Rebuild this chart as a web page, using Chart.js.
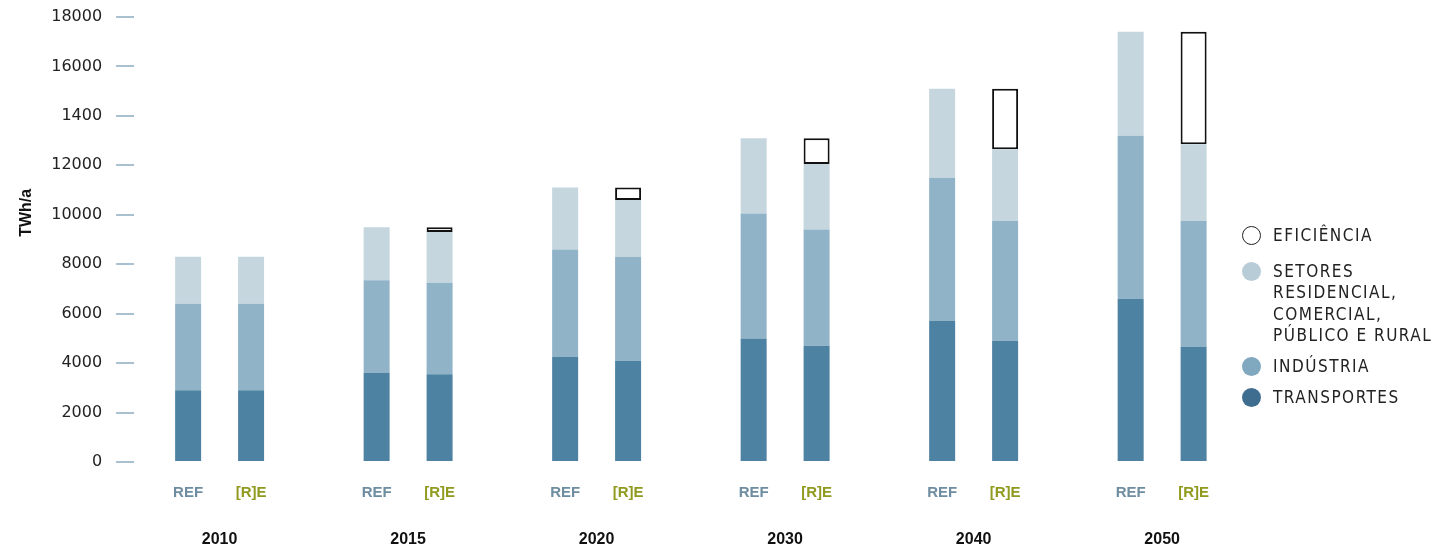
<!DOCTYPE html>
<html>
<head>
<meta charset="utf-8">
<script src="https://cdn.jsdelivr.net/npm/chart.js@4"></script>
<style>
  body { margin: 0; background: #fff; }
  #wrap { position: relative; width: 1432px; height: 553px; }
  #legend {
    position: absolute; left: 1242px; top: 225px;
    font-family: 'DejaVu Sans Condensed', 'DejaVu Sans', sans-serif;
    font-size: 17px; letter-spacing: 1.5px; line-height: 21.6px; color: #222;
    white-space: pre;
  }
  .item { position: relative; padding-left: 31px; }
  .dot {
    position: absolute; left: 0; top: 1px; width: 19px; height: 19px;
    border-radius: 50%; box-sizing: border-box;
  }
</style>
</head>
<body>
<div id="wrap">
  <canvas id="energyChart"></canvas>
  <div id="legend"></div>
</div>
<script>
// Categories and tick labels
const years = ['2010', '2015', '2020', '2030', '2040', '2050'];
const scenarios = ['REF', '[R]E'];
const yTickLabels = ['0', '2000', '4000', '6000', '8000', '10000', '12000', '1400', '16000', '18000'];

// Segment values (TWh/a), stacked bottom to top
const refTransportes = [2900, 3600, 4250, 5000, 5700, 6600];
const refIndustria = [3500, 3750, 4350, 5050, 5800, 6600];
const refSetores = [1900, 2150, 2500, 3050, 3600, 4200];
const reTransportes = [2900, 3550, 4100, 4700, 4900, 4650];
const reIndustria = [3500, 3700, 4200, 4700, 4850, 5100];
const reSetores = [1900, 2050, 2300, 2650, 2900, 3100];
const reEficiencia = [null, 200, 500, 1050, 2450, 4550];

const colors = {transportes: '#4e82a2', industria: '#90b3c7', setores: '#c5d6df'};

// Legend entries (top to bottom)
const legendItems = [
  {text: 'EFICIÊNCIA', fill: '#fff', border: '1.5px solid #222', gap: 0},
  {text: 'SETORES\nRESIDENCIAL,\nCOMERCIAL,\nPÚBLICO E RURAL', fill: '#b8ccd7', border: 'none', gap: 14},
  {text: 'INDÚSTRIA', fill: '#80a8be', border: 'none', gap: 9},
  {text: 'TRANSPORTES', fill: '#3f6d8f', border: 'none', gap: 9}
];

const legendEl = document.getElementById('legend');
legendItems.forEach(item => {
  const div = document.createElement('div');
  div.className = 'item';
  div.style.marginTop = item.gap + 'px';
  const dot = document.createElement('span');
  dot.className = 'dot';
  dot.style.background = item.fill;
  dot.style.border = item.border;
  div.appendChild(dot);
  div.appendChild(document.createTextNode(item.text));
  legendEl.appendChild(div);
});

const toPoints = arr => arr.map((v, i) => ({x: i, y: v}));

// Group spacing: two stacks per year, REF left and [R]E right
const catPct = 0.668;
const xMin = -0.4536;
const xMax = 5.36;

const ctx = document.getElementById('energyChart').getContext('2d');
new Chart(ctx, {
  type: 'bar',
  data: {
    datasets: [
      {label: 'Transportes', data: toPoints(refTransportes), stack: 'ref', backgroundColor: colors.transportes},
      {label: 'Indústria', data: toPoints(refIndustria), stack: 'ref', backgroundColor: colors.industria},
      {label: 'Setores', data: toPoints(refSetores), stack: 'ref', backgroundColor: colors.setores},
      {label: 'Transportes', data: toPoints(reTransportes), stack: 're', backgroundColor: colors.transportes},
      {label: 'Indústria', data: toPoints(reIndustria), stack: 're', backgroundColor: colors.industria},
      {label: 'Setores', data: toPoints(reSetores), stack: 're', backgroundColor: colors.setores},
      {
        label: 'Eficiência',
        data: toPoints(reEficiencia),
        stack: 're',
        backgroundColor: '#fff',
        borderColor: '#111',
        borderWidth: 2,
        borderSkipped: false
      }
    ]
  },
  options: {
    responsive: true,
    maintainAspectRatio: false,
    animation: false,
    layout: {padding: {left: 17, right: 202, top: 17, bottom: 3}},
    datasets: {bar: {categoryPercentage: catPct, barPercentage: 0.413}},
    plugins: {legend: {display: false}, tooltip: {enabled: false}},
    scales: {
      x: {
        type: 'linear',
        position: 'bottom',
        min: xMin,
        max: xMax,
        bounds: 'data',
        offset: false,
        stacked: true,
        weight: 1,
        grid: {display: false, drawTicks: false},
        border: {display: false},
        afterBuildTicks: scale => {
          scale.ticks = years.map((y, i) => ({value: i}));
        },
        afterFit: scale => { scale.height = 48; },
        ticks: {
          autoSkip: false,
          maxRotation: 0,
          padding: 28,
          color: '#111',
          font: {family: 'Liberation Sans', weight: 'bold', size: 16},
          callback: (v, i) => years[i]
        }
      },
      scenario: {
        type: 'linear',
        position: 'bottom',
        min: xMin,
        max: xMax,
        bounds: 'data',
        offset: false,
        weight: 0,
        grid: {display: false, drawTicks: false},
        border: {display: false},
        afterBuildTicks: scale => {
          scale.ticks = years.flatMap((y, i) => [
            {value: i - catPct / 4}, {value: i + catPct / 4}
          ]);
        },
        afterFit: scale => { scale.height = 40; },
        ticks: {
          autoSkip: false,
          maxRotation: 0,
          padding: 22,
          color: c => (c.index % 2 ? '#8f9a1e' : '#6f8da0'),
          font: {family: 'Liberation Sans', weight: 'bold', size: 15},
          callback: (v, i) => scenarios[i % 2]
        }
      },
      y: {
        stacked: true,
        min: 0,
        max: 18000,
        border: {display: false},
        grid: {drawOnChartArea: false, tickLength: 18, color: '#a8c0d0', lineWidth: 2},
        afterFit: scale => { scale.paddingTop = 0; },
        ticks: {
          stepSize: 2000,
          padding: 14,
          color: '#222',
          font: {family: 'DejaVu Sans', size: 16},
          callback: (v, i) => yTickLabels[i]
        },
        title: {
          display: true,
          text: '            TWh/a',  // leading spaces lift the label above centre
          color: '#111',
          font: {family: 'Liberation Sans', weight: 'bold', size: 16},
          padding: {top: 0, bottom: 1}
        }
      }
    }
  }
});
</script>
</body>
</html>
